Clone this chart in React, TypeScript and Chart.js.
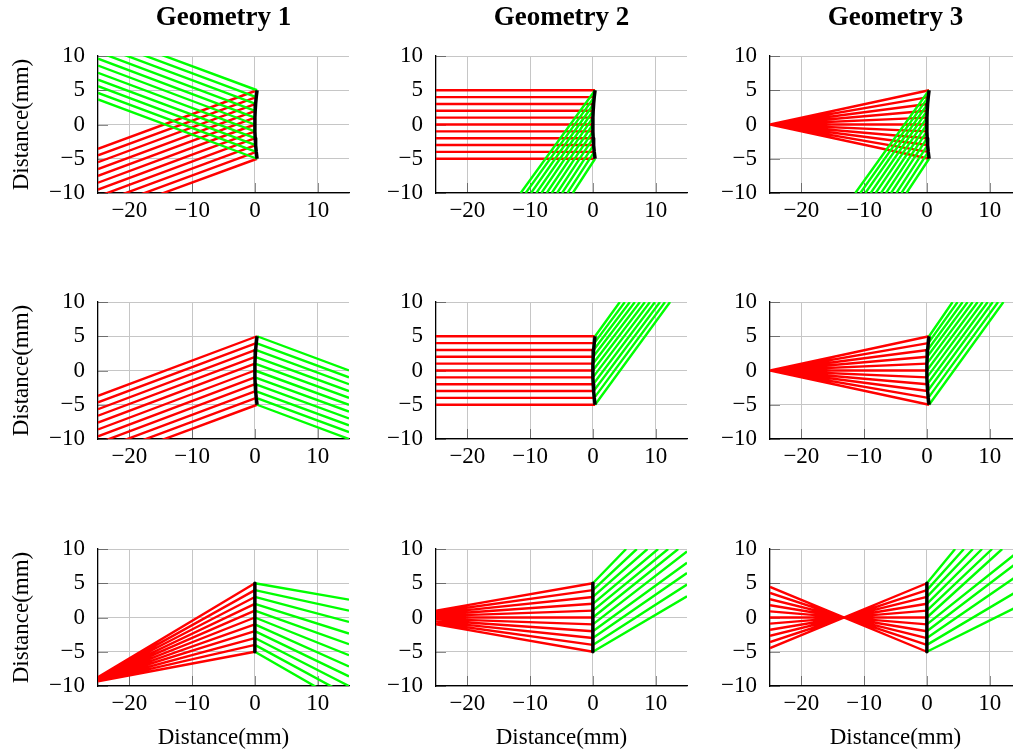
import React, { useEffect, useRef } from "react";
import { Chart, registerables } from "chart.js";

Chart.register(...registerables);

// ---- data -------------------------------------------------------------

// heights (mm) at which the rays meet the element
const RAY_HEIGHTS = [5, 4, 3, 2, 1, 0, -1, -2, -3, -4, -5];
// axial position (mm) of the curved and the flat element at those heights
const CURVED_ELEMENT_X = [0.35, 0.22, 0.12, 0.05, 0.01, 0, 0.01, 0.05, 0.12, 0.22, 0.35];
const FLAT_ELEMENT_X = [0, 0, 0, 0, 0, 0, 0, 0, 0, 0, 0];

const X_TICKS = [-20, -10, 0, 10];
const Y_TICKS = [-10, -5, 0, 5, 10];

const COLUMN_TITLES = ["Geometry 1", "Geometry 2", "Geometry 3"];
const AXIS_LABEL = "Distance(mm)";

// Row 1 — reflected rays
const r1g1RedStartY = [-3.55, -4.5, -5.5, -6.5, -7.5, -8.5, -9.5, -10.5, -11.5, -12.5, -13.5];
const r1g1GreenEndY = [13.6, 12.6, 11.6, 10.6, 9.6, 8.6, 7.55, 6.55, 5.6, 4.6, 3.65];
const r1g2GreenEndX = [-11.5, -10.7, -9.85, -9.0, -8.2, -7.35, -6.55, -5.7, -4.9, -4.05, -3.2];
const r1g3GreenEndX = [-11.4, -10.6, -9.8, -8.95, -8.15, -7.3, -6.5, -5.7, -4.85, -4.05, -3.25];

// Row 2 — transmitted rays, curved element
const r2g1RedStartY = [-3.7, -4.65, -5.65, -6.6, -7.6, -8.6, -9.6, -10.6, -11.6, -12.6, -13.6];
const r2g1GreenEndY = [0.0, -1.0, -2.0, -3.0, -4.0, -5.0, -6.0, -7.0, -8.0, -9.0, -10.0];
const r2g2GreenEndX = [4.3, 5.1, 5.9, 6.7, 7.5, 8.3, 9.1, 9.9, 10.7, 11.5, 12.3];
const r2g3GreenEndX = [4.1, 4.9, 5.7, 6.5, 7.3, 8.1, 8.9, 9.7, 10.5, 11.35, 12.2];

// Row 3 — transmitted rays, flat element
const r3g1RedStartY = [-8.72, -8.78, -8.84, -8.9, -8.96, -9.02, -9.08, -9.14, -9.2, -9.26, -9.32];
const r3g1GreenEndY = [2.6, 1.0, -0.65, -2.35, -3.9, -5.5, -7.15, -8.6, -10.0, -11.45, -12.9];
const r3g2RedStartY = [1.0, 0.8, 0.6, 0.4, 0.2, 0, -0.2, -0.4, -0.6, -0.8, -1.0];
const r3g2GreenEndX = [5.3, 7.0, 8.7, 10.4, 12.0, 13.6, 15, 15, 15, 15, 15];
const r3g2GreenEndY = [10, 10, 10, 10, 10, 10, 9.65, 8.0, 6.5, 4.8, 3.1];
const r3g3RedStartY = [-4.47, -3.58, -2.68, -1.79, -0.89, 0, 0.89, 1.79, 2.68, 3.58, 4.47];
const r3g3GreenEndX = [4.5, 5.9, 7.35, 8.8, 10.4, 12.0, 15, 15, 15, 15, 15];
const r3g3GreenEndY = [10, 10, 10, 10, 10, 10, 9.95, 8.45, 6.45, 4.15, 1.85];

// ---- look -------------------------------------------------------------

const FONT_FAMILY = "'Liberation Serif', 'Times New Roman', Times, serif";
const RED = "#ff0000";
const GREEN = "#00ff00";
const GRID_COLOR = "#c6c6c6";
const TICK_MARK_COLOR = "rgba(0,0,0,0.45)";

const COL_LEFT = [98, 436, 770];
const ROW_TOP = [56, 302, 549];
const PLOT_W = 251;
const PLOT_H = 137;
const AXIS_W = 90;
const TOP_SPACE = 56;
const AXIS_H = 66;
const RIGHT_PAD = 20;
const LABEL_SIZE = 23;
const TITLE_SIZE = 27;

type Val = number | number[];

interface PanelSpec {
  row: number;
  col: number;
  elementX: number[];
  redStartX: Val;
  redStartY: Val;
  greenEndX: Val;
  greenEndY: Val;
}

const PANELS: PanelSpec[] = [
  { row: 0, col: 0, elementX: CURVED_ELEMENT_X, redStartX: -25, redStartY: r1g1RedStartY, greenEndX: -25, greenEndY: r1g1GreenEndY },
  { row: 0, col: 1, elementX: CURVED_ELEMENT_X, redStartX: -25, redStartY: RAY_HEIGHTS, greenEndX: r1g2GreenEndX, greenEndY: -10 },
  { row: 0, col: 2, elementX: CURVED_ELEMENT_X, redStartX: -25, redStartY: 0, greenEndX: r1g3GreenEndX, greenEndY: -10 },
  { row: 1, col: 0, elementX: CURVED_ELEMENT_X, redStartX: -25, redStartY: r2g1RedStartY, greenEndX: 15, greenEndY: r2g1GreenEndY },
  { row: 1, col: 1, elementX: CURVED_ELEMENT_X, redStartX: -25, redStartY: RAY_HEIGHTS, greenEndX: r2g2GreenEndX, greenEndY: 10 },
  { row: 1, col: 2, elementX: CURVED_ELEMENT_X, redStartX: -25, redStartY: 0, greenEndX: r2g3GreenEndX, greenEndY: 10 },
  { row: 2, col: 0, elementX: FLAT_ELEMENT_X, redStartX: -25, redStartY: r3g1RedStartY, greenEndX: 15, greenEndY: r3g1GreenEndY },
  { row: 2, col: 1, elementX: FLAT_ELEMENT_X, redStartX: -25, redStartY: r3g2RedStartY, greenEndX: r3g2GreenEndX, greenEndY: r3g2GreenEndY },
  { row: 2, col: 2, elementX: FLAT_ELEMENT_X, redStartX: -25, redStartY: r3g3RedStartY, greenEndX: r3g3GreenEndX, greenEndY: r3g3GreenEndY },
];

const at = (v: Val, i: number) => (Array.isArray(v) ? v[i] : v);
const GAP = { x: null, y: null };

function raySegments(x0: Val, y0: Val, x1: Val, y1: Val) {
  const pts: any[] = [];
  RAY_HEIGHTS.forEach((_, i) => {
    pts.push({ x: at(x0, i), y: at(y0, i) }, { x: at(x1, i), y: at(y1, i) }, GAP);
  });
  return pts;
}

const minusLabel = (v: number | string) => {
  const n = Number(v);
  return n < 0 ? "\u2212" + Math.abs(n) : String(n);
};

// short tick marks drawn inwards from the left and bottom axis lines
const innerTicks = {
  id: "innerTicks",
  beforeDatasetsDraw(chart: any) {
    const { ctx, chartArea, scales } = chart;
    const len = 10;
    ctx.save();
    ctx.strokeStyle = TICK_MARK_COLOR;
    ctx.lineWidth = 1;
    ctx.beginPath();
    for (const t of scales.x.ticks) {
      const px = Math.round(scales.x.getPixelForValue(t.value)) + 0.5;
      ctx.moveTo(px, chartArea.bottom);
      ctx.lineTo(px, chartArea.bottom - len);
    }
    for (const t of scales.y.ticks) {
      const py = Math.round(scales.y.getPixelForValue(t.value)) + 0.5;
      ctx.moveTo(chartArea.left, py);
      ctx.lineTo(chartArea.left + len, py);
    }
    ctx.stroke();
    ctx.restore();
  },
};

function RayPanel({ spec }: { spec: PanelSpec }) {
  const ref = useRef<HTMLCanvasElement>(null);
  const width = AXIS_W + PLOT_W + RIGHT_PAD;
  const height = TOP_SPACE + PLOT_H + AXIS_H;
  const left = COL_LEFT[spec.col] - AXIS_W;
  const top = ROW_TOP[spec.row] - TOP_SPACE;

  useEffect(() => {
    if (!ref.current) return;
    const hasTitle = spec.row === 0;
    const labelFont = { family: FONT_FAMILY, size: LABEL_SIZE };
    const titleLine = TITLE_SIZE * 1.2;

    const element = RAY_HEIGHTS.map((h, i) => ({ x: spec.elementX[i], y: h }));
    const red = raySegments(spec.redStartX, spec.redStartY, spec.elementX, RAY_HEIGHTS);
    const green = raySegments(spec.elementX, RAY_HEIGHTS, spec.greenEndX, spec.greenEndY);

    const chart = new Chart(ref.current, {
      type: "line",
      data: {
        datasets: [
          { data: element, borderColor: "#000", borderWidth: 3.5, borderJoinStyle: "round", borderCapStyle: "butt" },
          { data: green, borderColor: GREEN, borderWidth: 2.4, clip: 0 },
          { data: red, borderColor: RED, borderWidth: 2.4, clip: 0 },
        ] as any,
      },
      options: {
        animation: false,
        responsive: false,
        events: [],
        elements: { point: { radius: 0, hitRadius: 0 }, line: { tension: 0 } },
        layout: { padding: { top: hasTitle ? 0 : TOP_SPACE, left: 0, right: RIGHT_PAD, bottom: 0 } },
        plugins: {
          legend: { display: false },
          tooltip: { enabled: false },
          title: {
            display: hasTitle,
            text: COLUMN_TITLES[spec.col],
            fullSize: false,
            color: "#000",
            font: { family: FONT_FAMILY, size: TITLE_SIZE, weight: "bold" },
            padding: { top: 2, bottom: TOP_SPACE - 2 - titleLine },
          },
        },
        scales: {
          x: {
            type: "linear",
            min: -25,
            max: 15,
            afterBuildTicks: (s: any) => {
              s.ticks = X_TICKS.map((v) => ({ value: v }));
            },
            ticks: {
              maxRotation: 0,
              autoSkip: false,
              color: "#000",
              font: labelFont,
              padding: 4,
              callback: minusLabel,
            },
            grid: { color: GRID_COLOR, lineWidth: 1, drawTicks: false },
            border: { color: "#000", width: 1.3 },
            title: {
              display: spec.row === 2,
              text: AXIS_LABEL,
              color: "#000",
              font: labelFont,
              padding: 0,
            },
            afterFit: (s: any) => {
              s.height = AXIS_H;
            },
          },
          y: {
            type: "linear",
            min: -10,
            max: 10,
            afterBuildTicks: (s: any) => {
              s.ticks = Y_TICKS.map((v) => ({ value: v }));
            },
            ticks: {
              autoSkip: false,
              color: "#000",
              font: labelFont,
              padding: 13,
              callback: minusLabel,
            },
            grid: { color: GRID_COLOR, lineWidth: 1, drawTicks: false },
            border: { color: "#000", width: 1.3 },
            title: {
              display: spec.col === 0,
              text: AXIS_LABEL,
              color: "#000",
              font: labelFont,
              padding: 0,
            },
            afterFit: (s: any) => {
              s.width = AXIS_W;
            },
          },
        },
      } as any,
      plugins: [innerTicks],
    });
    return () => chart.destroy();
  }, [spec]);

  return (
    <canvas
      ref={ref}
      width={width}
      height={height}
      style={{ position: "absolute", left, top, width, height }}
    />
  );
}

export default function App() {
  return (
    <div
      style={{
        position: "fixed",
        left: 0,
        top: 0,
        width: 1013,
        height: 751,
        overflow: "hidden",
        background: "#fff",
      }}
    >
      {PANELS.map((p) => (
        <RayPanel key={`${p.row}-${p.col}`} spec={p} />
      ))}
    </div>
  );
}
